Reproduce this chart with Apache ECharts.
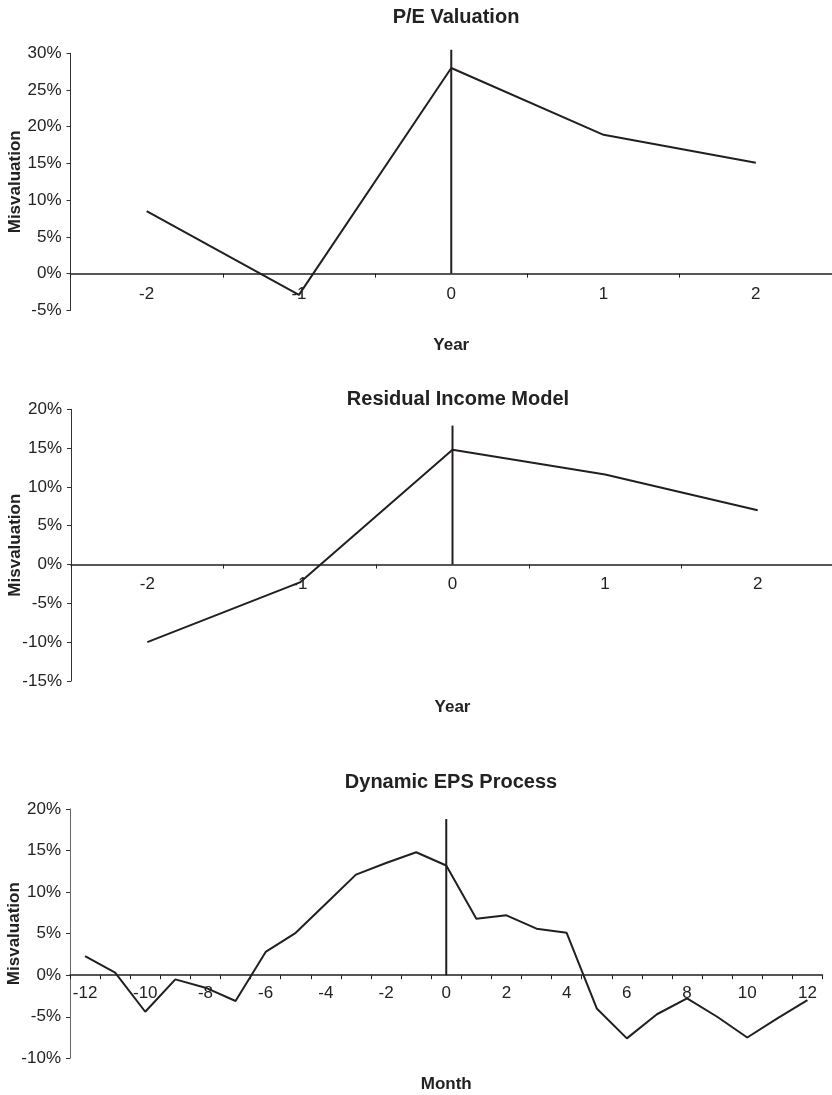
<!DOCTYPE html>
<html>
<head>
<meta charset="utf-8">
<script src="https://cdn.jsdelivr.net/npm/echarts@6/dist/echarts.min.js"></script>
<style>
html,body{margin:0;padding:0;background:#fff;}
#c{width:832px;height:1095px;}
</style>
</head>
<body>
<div id="c"></div>
<script>
// ---- data ----
const titles = ['P/E Valuation', 'Residual Income Model', 'Dynamic EPS Process'];
const yearCats = ['-2', '-1', '0', '1', '2'];
const monthCats = ['-12','-11','-10','-9','-8','-7','-6','-5','-4','-3','-2','-1','0','1','2','3','4','5','6','7','8','9','10','11','12'];
const peValues = [8.5, -2.9, 28.0, 18.9, 15.1];
const riValues = [-10.0, -2.3, 14.8, 11.6, 7.0];
const epsValues = [2.3, 0.3, -4.4, -0.5, -1.5, -3.1, 2.8, 5.1, 8.6, 12.1, 13.5, 14.8, 13.2, 6.8, 7.2, 5.6, 5.1, -4.0, -7.6, -4.7, -2.8, -5.0, -7.5, -5.2, -3.0];
// vertical event line at 0: [from, to] in %
const peMarker = [0, 30.5];
const riMarker = [0, 17.9];
const epsMarker = [0, 18.8];
// y-axis ranges [min, max]
const peRange = [-5, 30];
const riRange = [-15, 20];
const epsRange = [-10, 20];
const xNames = ['Year', 'Year', 'Month'];
const yName = 'Misvaluation';

const FONT = '"Liberation Sans", Arial, sans-serif';
const ink = '#231f20';

const grids = [
  {left: 70.5, top: 53.3, width: 761.5, height: 257, outerBoundsMode: 'none', containLabel: false},
  {left: 71, top: 409.3, width: 763, height: 271.7, outerBoundsMode: 'none', containLabel: false},
  {left: 70, top: 809, width: 752.5, height: 249.3, outerBoundsMode: 'none', containLabel: false}
];
const labelMargins = [-24.5, -105.5, -73.5];
const nameGaps = [27, 18, 17.5];
const titleY = [2, 384, 767];
const titleX = [451, 453, 446];

function xAxis(i, cats, labelInterval) {
  return {
    type: 'category', gridIndex: i, data: cats, boundaryGap: true,
    axisLine: {onZero: true, lineStyle: {color: ink, width: 1.5}},
    axisTick: {show: true, inside: false, length: 4, interval: 0, lineStyle: {color: ink, width: 1}},
    axisLabel: {interval: labelInterval, margin: labelMargins[i], fontSize: 17, color: '#222', fontFamily: FONT},
    splitLine: {show: false},
    name: xNames[i], nameLocation: 'middle', nameGap: nameGaps[i], nameMoveOverlap: false,
    nameTextStyle: {fontSize: 17, fontWeight: 'bold', color: '#222', fontFamily: FONT}
  };
}
function yAxis(i, range) {
  return {
    type: 'value', gridIndex: i, min: range[0], max: range[1], interval: 5,
    axisLine: {show: true, lineStyle: {color: i === 2 ? '#666' : '#333', width: 1}},
    axisTick: {show: true, inside: false, length: 4, lineStyle: {color: '#333'}},
    axisLabel: {formatter: '{value}%', margin: 9, fontSize: 17, color: '#222', fontFamily: FONT},
    splitLine: {show: false},
    name: yName, nameLocation: 'middle', nameGap: 47, nameRotate: 90, nameMoveOverlap: false,
    nameTextStyle: {fontSize: 17, fontWeight: 'bold', color: '#222', fontFamily: FONT}
  };
}
function lineSeries(i, values) {
  return {
    type: 'line', xAxisIndex: i, yAxisIndex: i, data: values,
    symbol: 'none', lineStyle: {color: ink, width: 2}, animation: false, silent: true
  };
}
function markerSeries(i, marker) {
  return {
    type: 'line', xAxisIndex: i, yAxisIndex: i, clip: false,
    data: marker.map(v => ['0', v]),
    symbol: 'none', lineStyle: {color: ink, width: 2}, animation: false, silent: true
  };
}

const chart = echarts.init(document.getElementById('c'), null, {renderer: 'canvas'});
chart.setOption({
  animation: false,
  backgroundColor: '#fff',
  title: titles.map((t, i) => ({
    text: t, left: titleX[i], top: titleY[i], textAlign: 'center',
    textStyle: {fontSize: 20, fontWeight: 'bold', color: '#222', fontFamily: FONT}
  })),
  grid: grids,
  xAxis: [xAxis(0, yearCats, 0), xAxis(1, yearCats, 0), xAxis(2, monthCats, 1)],
  yAxis: [yAxis(0, peRange), yAxis(1, riRange), yAxis(2, epsRange)],
  series: [
    lineSeries(0, peValues), markerSeries(0, peMarker),
    lineSeries(1, riValues), markerSeries(1, riMarker),
    lineSeries(2, epsValues), markerSeries(2, epsMarker)
  ]
});
</script>
</body>
</html>
